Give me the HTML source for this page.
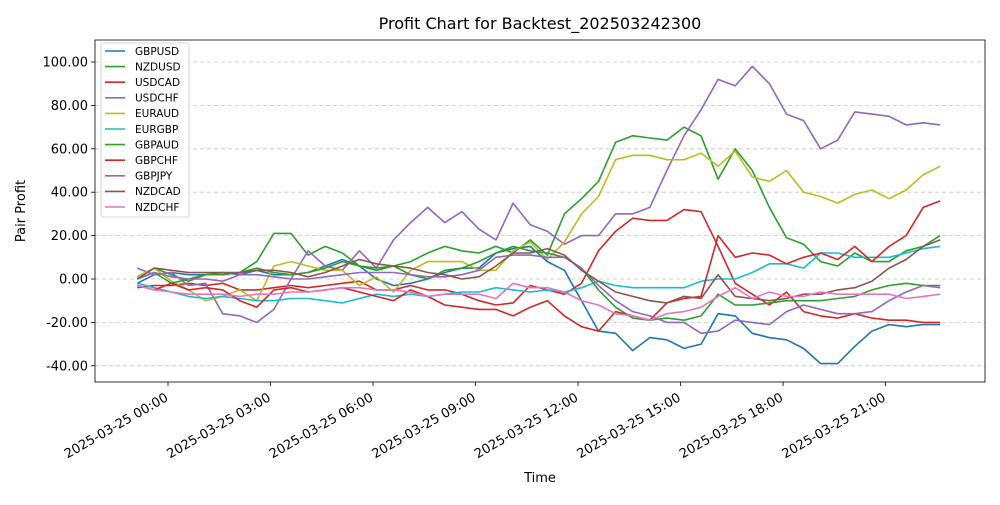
<!DOCTYPE html>
<html><head><meta charset="utf-8"><style>
body{margin:0;background:#fff}
svg{font-family:"DejaVu Sans","Liberation Sans",sans-serif}
</style></head><body>
<svg id="chart" width="1000" height="500" viewBox="0 0 1000 500" xmlns="http://www.w3.org/2000/svg">
<rect width="1000" height="500" fill="#fff"/>
<text x="540" y="29" font-size="16" text-anchor="middle">Profit Chart for Backtest_202503242300</text>
<text transform="translate(25,211) rotate(-90)" font-size="13" text-anchor="middle">Pair Profit</text>
<text x="540" y="482" font-size="13" text-anchor="middle">Time</text>
<g id="grid"></g><g id="series"></g><g id="axes"></g><g id="legend"></g>
</svg>
<script>
const names=["GBPUSD","NZDUSD","USDCAD","USDCHF","EURAUD","EURGBP","GBPAUD","GBPCHF","GBPJPY","NZDCAD","NZDCHF"];
const colors=["#1f77b4","#2ca02c","#d62728","#9467bd","#bcbd22","#17becf","#2ca02c","#d62728","#9467bd","#8c564b","#e377c2"];
const yTicks=[-40,-20,0,20,40,60,80,100];
const xTickHours=[0,3,6,9,12,15,18,21];
const xTickLabels=["2025-03-25 00:00","2025-03-25 03:00","2025-03-25 06:00","2025-03-25 09:00","2025-03-25 12:00","2025-03-25 15:00","2025-03-25 18:00","2025-03-25 21:00"];
const startHour=-0.9, stepHour=0.5;
const GBPUSD=[-2,2,3,2,2,3,2,4,2,2,3,6,9,6,0,-3,-2,0,3,5,5,12,14,15,8,4,-10,-24,-25,-33,-27,-28,-32,-30,-16,-17,-25,-27,-28,-32,-39,-39,-31,-24,-21,-22,-21,-21];
const NZDUSD=[1,5,2,-1,2,2,3,8,21,21,11,15,12,6,4,6,8,12,15,13,12,15,12,18,11,30,37,45,63,66,65,64,70,66,46,60,50,33,19,16,8,6,12,8,8,13,15,20];
const USDCAD=[-4,-3,-3,-2,-3,-2,-5,-5,-4,-3,-4,-3,-2,-1,-5,-5,-3,-5,-5,-7,-10,-12,-11,-3,-5,-7,-2,13,22,28,27,27,32,31,15,-2,-7,-12,-6,-15,-17,-18,-16,-18,-19,-19,-20,-20];
const USDCHF=[5,2,3,-3,-2,-16,-17,-20,-14,0,13,6,4,13,5,18,26,33,26,31,23,18,35,25,22,16,20,20,30,30,33,50,66,78,92,89,98,90,76,73,60,64,77,76,75,71,72,71];
const EURAUD=[1,5,-1,-5,-10,-8,-5,-10,6,8,6,4,4,-3,1,-6,4,8,8,8,4,4,13,17,9,17,30,38,55,57,57,55,55,58,52,59,47,45,50,40,38,35,39,41,37,41,48,52];
const EURGBP=[-2,-4,-6,-8,-9,-8,-9,-10,-10,-9,-9,-10,-11,-9,-7,-8,-7,-8,-7,-6,-6,-4,-5,-6,-5,-6,-4,-1,-3,-4,-4,-4,-4,-1,0,0,3,7,7,5,12,12,10,10,10,12,14,15];
const GBPAUD=[0,3,-2,0,2,2,3,5,3,2,3,5,8,6,5,6,2,0,4,5,8,12,15,13,12,10,5,-5,-13,-18,-19,-18,-19,-17,-7,-12,-12,-11,-10,-10,-10,-9,-8,-5,-3,-2,-3,-3];
const GBPCHF=[-3,-5,-2,-5,-4,-5,-10,-13,-5,-4,-6,-5,-4,-6,-8,-10,-5,-8,-12,-13,-14,-14,-17,-13,-10,-17,-22,-24,-15,-17,-19,-11,-9,-8,20,10,12,11,7,10,12,9,15,8,15,20,33,36];
const GBPJPY=[0,3,1,0,0,-1,2,2,1,0,0,1,2,3,3,3,2,1,1,2,4,10,11,11,10,10,5,-3,-10,-15,-17,-20,-20,-25,-24,-19,-20,-21,-15,-12,-14,-16,-16,-15,-10,-6,-3,-4];
const NZDCAD=[0,5,4,3,3,3,3,4,4,3,1,3,6,9,7,6,5,3,2,0,1,6,12,12,14,11,4,-1,-6,-8,-10,-11,-8,-9,2,-8,-9,-10,-9,-7,-7,-5,-4,-1,5,9,15,18];
const NZDCHF=[-3,-5,-6,-7,-7,-7,-8,-7,-7,-6,-6,-5,-4,-4,-5,-5,-6,-8,-7,-7,-7,-9,-2,-4,-4,-6,-10,-12,-16,-17,-19,-16,-15,-13,-8,-4,-9,-6,-8,-8,-6,-7,-7,-7,-7,-9,-8,-7];
const seriesData=[GBPUSD,NZDUSD,USDCAD,USDCHF,EURAUD,EURGBP,GBPAUD,GBPCHF,GBPJPY,NZDCAD,NZDCHF];

const NS="http://www.w3.org/2000/svg";
const L=95,R=985,T=40,B=382;
const xScale=h=>168+h*34.17;
const yScale=v=>279-v*2.17;
function mk(tag,attrs,parent){const e=document.createElementNS(NS,tag);for(const k in attrs)e.setAttribute(k,attrs[k]);parent.appendChild(e);return e;}
const grid=document.getElementById('grid'),axes=document.getElementById('axes'),ser=document.getElementById('series'),leg=document.getElementById('legend');
yTicks.forEach(v=>{
  const y=yScale(v);
  const g=mk('line',{x1:L,x2:R,y1:y,y2:y,stroke:'#b0b0b0','stroke-width':0.8,'stroke-dasharray':'4,3',opacity:0.7},grid);
  
  
  const t=mk('line',{x1:L-4,x2:L,y1:y,y2:y,stroke:'#000','stroke-width':0.8},axes);
  
  
  const tx=mk('text',{x:L-7,y:y+4.5,'font-size':13,'text-anchor':'end'},axes);
  tx.textContent=v.toFixed(2);
  
  
});
xTickHours.forEach((h,i)=>{
  const x=xScale(h);
  const t=mk('line',{x1:x,x2:x,y1:B,y2:B+4,stroke:'#000','stroke-width':0.8},axes);
  
  
  const tx=mk('text',{x:0,y:0,'font-size':13,'text-anchor':'end',transform:`translate(${x+1},${B+18}) rotate(-30)`},axes);
  tx.textContent=xTickLabels[i];
  
  
});
seriesData.forEach((d,si)=>{
  const pts=d.map((v,i)=>xScale(startHour+i*stepHour).toFixed(1)+','+yScale(v).toFixed(1)).join(' ');
  const p=mk('polyline',{points:pts,fill:'none',stroke:colors[si],'stroke-width':1.6,'stroke-linejoin':'round'},ser);
  
  
});
const fr=mk('rect',{x:L,y:T,width:R-L,height:B-T,fill:'none',stroke:'#000','stroke-width':0.8},axes);


const lb=mk('rect',{x:101,y:43,width:88,height:174,rx:2,fill:'#fff','fill-opacity':0.8,stroke:'#ccc','stroke-width':0.8},leg);


names.forEach((n,i)=>{
  const y=51+i*15.6;
  const ln=mk('line',{x1:105,x2:125,y1:y,y2:y,stroke:colors[i],'stroke-width':1.6},leg);
  
  
  const tx=mk('text',{x:135,y:y+3.8,'font-size':10.5},leg);
  tx.textContent=n;
  
  
});
</script>
</body></html>
